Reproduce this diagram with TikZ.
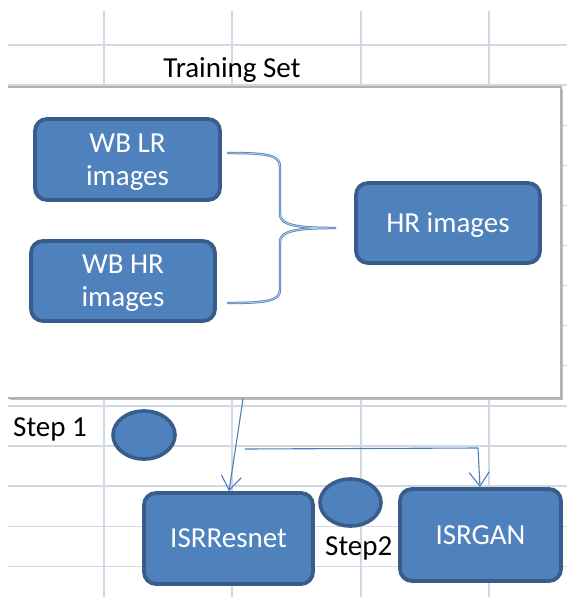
\documentclass[tikz,border=0pt]{standalone}
\usepackage{fontspec}
\setmainfont{Carlito}
\usetikzlibrary{arrows.meta,shapes.geometric}
\definecolor{gridc}{HTML}{D0D7E5}
\definecolor{boxfill}{HTML}{4F81BD}
\definecolor{boxline}{HTML}{385D8A}
\definecolor{linkc}{HTML}{4A7EBB}
\definecolor{linklight}{HTML}{B9CDE8}
\tikzset{
  x=1pt, y=-1pt,
  gridline/.style={draw=gridc, line width=1.3pt},
  bluebox/.style={draw=boxline, fill=boxfill, line width=3.8pt, rounded corners=12pt,
    text=white, font=\fontsize{29}{35}\selectfont, align=center, inner sep=0pt},
  stepdot/.style={ellipse, draw=boxline, fill=boxfill, line width=3.6pt, inner sep=0pt},
  plain/.style={font=\fontsize{29}{35}\selectfont, inner sep=0pt},
  link/.style={draw=linkc, line width=1.1pt},
  linkarrow/.style={link, -{Straight Barb[length=14pt,width=20pt,line width=1.1pt]}},
}
\begin{document}
\begin{tikzpicture}
\useasboundingbox (0,0) rectangle (567,597);
\fill[white] (0,0) rectangle (567,597);

% sheet grid
\foreach \gx in {104,232,361,489}
  \draw[gridline] (\gx,11) -- (\gx,597);
\foreach \k in {0,...,13}
  \draw[gridline] (8,45+40.1*\k) -- (567,45+40.1*\k);

% training set panel with its drop shadow
\fill[black!25] (10,89) rectangle (563,400);
\fill[white] (8,87) rectangle (561,398);
\draw[black!30, line width=1.5pt] (8,87) -- (561,87) -- (561,398) -- (8,398);

\node[plain, anchor=base] (title) at (232,77) {Training Set};

% inputs and target
\node[bluebox, minimum width=185pt, minimum height=81pt, text depth=0pt] (wblr) at (127.5,159.5)
  {WB LR\\[-2pt]images};
\node[bluebox, minimum width=184pt, minimum height=80pt, text depth=0pt] (wbhr) at (123,281)
  {WB HR\\[-2pt]images};
\node[bluebox, minimum width=184pt, minimum height=80pt, text depth=0pt] (hr) at (448,223)
  {HR images};

% brace joining the two inputs
\coordinate (b1) at (227,153);
\coordinate (b2) at (227,303);
\coordinate (tip) at (336,228);
\foreach \c/\w in {linkc/2.4pt, linklight/0.9pt}{
  \draw[draw=\c, line width=\w]
    (b1) .. controls (268,153) and (280,155) .. (280,167)
    -- (280,214) .. controls (280,225) and (296,228) .. (tip)
    .. controls (296,228) and (280,231) .. (280,242)
    -- (280,290) .. controls (280,301) and (266,303) .. (b2);
}

% steps
\node[plain, anchor=base west] (step1) at (13,436) {Step 1};
\node[stepdot, minimum width=62pt, minimum height=48pt] (dot1) at (144,435) {};
\node[stepdot, minimum width=61pt, minimum height=47pt] (dot2) at (350.5,502.5) {};
\node[plain, anchor=base west] (step2) at (325,555) {Step2};

% networks
\node[bluebox, minimum width=169pt, minimum height=91pt] (resnet) at (228.5,538.5) {ISRResnet};
\node[bluebox, minimum width=161pt, minimum height=92pt] (gan) at (480.5,535) {ISRGAN};

% flow into the networks
\coordinate (a1) at (243,399);
\coordinate (a2) at (245,449);
\coordinate (a3) at (478,448);
\draw[linkarrow] (a1) -- (resnet.north -| 229,0);
\draw[link] (a2) -- (a3);
\draw[linkarrow] (a3) -- (gan.north -| 480,0);
\end{tikzpicture}
\end{document}
